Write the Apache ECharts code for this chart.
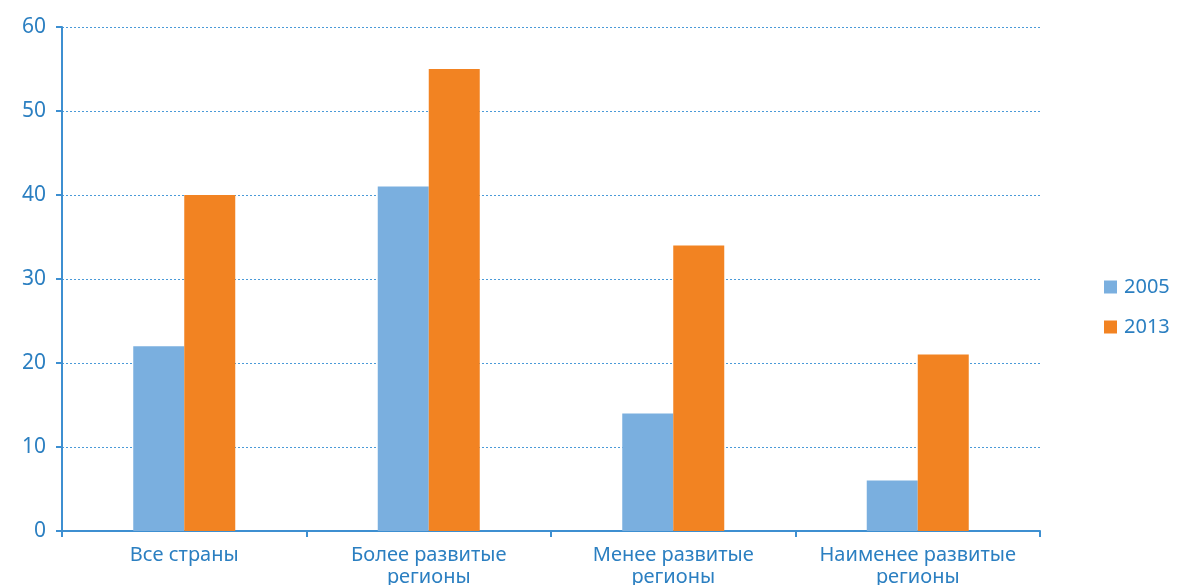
<!DOCTYPE html>
<html><head><meta charset="utf-8">
<script src="https://cdn.jsdelivr.net/npm/echarts@6/dist/echarts.min.js"></script>
<style>html,body{margin:0;padding:0;background:#fff}#c{width:1180px;height:585px}</style>
</head><body><div id="c"></div>
<script>
const categories = ['Все страны', 'Более развитые\nрегионы', 'Менее развитые\nрегионы', 'Наименее развитые\nрегионы'];
const series2005 = [22, 41, 14, 6];
const series2013 = [40, 55, 34, 21];
const seriesNames = ['2005', '2013'];

const axisColor = '#3d8fd1';
const gridColor = '#4a9ad8';
const textColor = '#2b7fc1';
const font = 'Noto Sans';
const chart = echarts.init(document.getElementById('c'));
chart.setOption({
  animation: false,
  grid: {left: 62, right: 140, top: 27, bottom: 54, containLabel: false, outerBoundsMode: 'none'},
  legend: {
    orient: 'vertical', left: 1099, top: 272, itemWidth: 13, itemHeight: 13, itemGap: 20,
    icon: 'rect',
    textStyle: {color: textColor, fontSize: 20, fontFamily: font, padding: [0,0,0,2]},
    data: seriesNames
  },
  xAxis: {
    type: 'category', data: categories,
    axisLine: {lineStyle: {color: axisColor, width: 2}},
    axisTick: {show: true, length: 6, lineStyle: {color: axisColor, width: 2}},
    axisLabel: {color: textColor, fontSize: 20, fontFamily: font, margin: 13, lineHeight: 22, interval: 0, hideOverlap: false}
  },
  yAxis: {
    type: 'value', min: 0, max: 60, interval: 10,
    axisLine: {show: true, lineStyle: {color: axisColor, width: 2}},
    axisTick: {show: true, length: 6, lineStyle: {color: axisColor, width: 2}},
    axisLabel: {color: textColor, fontSize: 21, fontFamily: font, margin: 16},
    splitLine: {lineStyle: {color: gridColor, width: 1, type: [2, 2]}}
  },
  series: [
    {name: seriesNames[0], type: 'bar', data: series2005, barWidth: 51, barGap: '0%', itemStyle: {color: '#7aafdf'}},
    {name: seriesNames[1], type: 'bar', data: series2013, barWidth: 51, barGap: '0%', itemStyle: {color: '#f28322'}}
  ]
});
</script></body></html>
